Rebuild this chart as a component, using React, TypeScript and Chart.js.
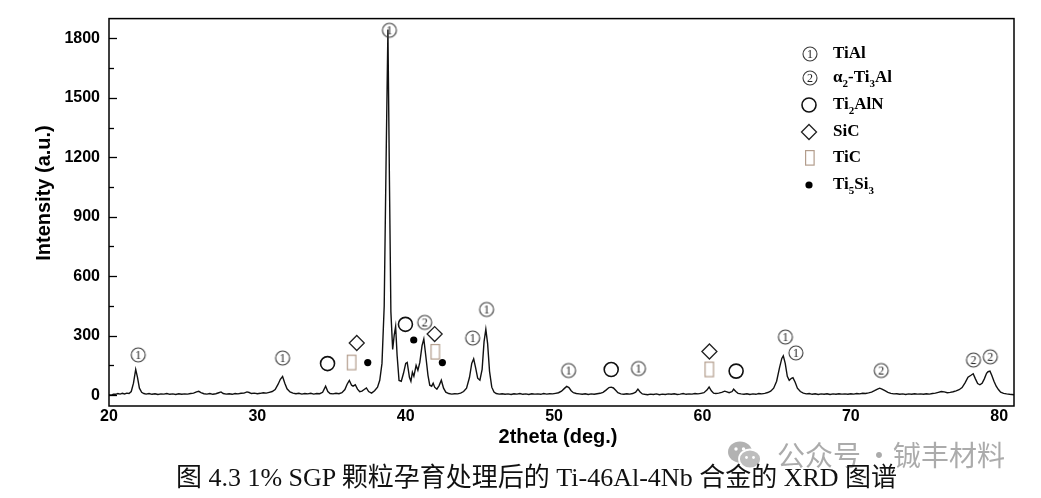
import React, { useEffect, useRef } from 'react';
import { Chart, registerables } from 'chart.js';

Chart.register(...registerables);

// ---- XRD pattern (2theta in degrees, intensity in a.u.) ----
const angles = [
  20.0, 20.15, 20.3, 20.45, 20.6, 20.75, 20.9, 21.05, 21.2, 21.35, 21.5, 21.65, 21.8, 21.92, 22.05, 22.2, 22.35, 22.5, 22.7, 22.9,
  23.1, 23.3, 23.5, 23.7, 23.9, 24.1, 24.3, 24.5, 24.7, 24.9, 25.1, 25.3, 25.5, 25.7, 25.9, 26.05, 26.2, 26.4, 26.6, 26.8,
  27.0, 27.2, 27.4, 27.55, 27.7, 27.9, 28.1, 28.3, 28.5, 28.7, 28.9, 29.1, 29.3, 29.45, 29.6, 29.8, 30.0, 30.2, 30.4, 30.6,
  30.8, 31.0, 31.2, 31.4, 31.55, 31.7, 31.85, 32.0, 32.2, 32.4, 32.6, 32.8, 33.0, 33.2, 33.4, 33.6, 33.8, 34.0, 34.2, 34.4,
  34.6, 34.75, 34.9, 35.1, 35.3, 35.5, 35.7, 35.9, 36.05, 36.2, 36.35, 36.45, 36.6, 36.75, 36.9, 37.05, 37.2, 37.35, 37.5, 37.7,
  37.9, 38.1, 38.25, 38.4, 38.55, 38.68, 38.8, 38.9, 39.0, 39.12, 39.22, 39.32, 39.42, 39.55, 39.7, 39.85, 40.0, 40.1, 40.25, 40.35,
  40.45, 40.55, 40.7, 40.82, 40.95, 41.1, 41.22, 41.35, 41.5, 41.62, 41.75, 41.85, 41.95, 42.1, 42.25, 42.4, 42.55, 42.7, 42.9, 43.1,
  43.3, 43.5, 43.7, 43.9, 44.1, 44.3, 44.45, 44.58, 44.72, 44.85, 45.0, 45.15, 45.28, 45.4, 45.52, 45.65, 45.8, 45.95, 46.1, 46.3,
  46.5, 46.7, 46.9, 47.1, 47.3, 47.5, 47.7, 47.9, 48.1, 48.3, 48.5, 48.7, 48.9, 49.1, 49.3, 49.5, 49.7, 49.9, 50.1, 50.3,
  50.5, 50.7, 50.85, 51.0, 51.15, 51.3, 51.5, 51.7, 51.9, 52.1, 52.3, 52.5, 52.7, 52.9, 53.1, 53.3, 53.5, 53.7, 53.85, 54.0,
  54.15, 54.3, 54.5, 54.7, 54.9, 55.1, 55.3, 55.5, 55.65, 55.8, 55.95, 56.1, 56.3, 56.5, 56.7, 56.9, 57.1, 57.3, 57.5, 57.7,
  57.9, 58.1, 58.3, 58.5, 58.7, 58.9, 59.1, 59.3, 59.5, 59.7, 59.9, 60.1, 60.3, 60.45, 60.6, 60.75, 60.9, 61.1, 61.3, 61.5,
  61.65, 61.8, 62.0, 62.1, 62.25, 62.4, 62.6, 62.8, 63.0, 63.2, 63.4, 63.6, 63.8, 64.0, 64.2, 64.4, 64.6, 64.8, 65.0, 65.2,
  65.35, 65.45, 65.58, 65.72, 65.85, 66.0, 66.1, 66.25, 66.4, 66.6, 66.8, 67.0, 67.2, 67.4, 67.6, 67.8, 68.0, 68.2, 68.4, 68.6,
  68.8, 69.0, 69.2, 69.4, 69.6, 69.8, 70.0, 70.2, 70.4, 70.6, 70.8, 71.0, 71.2, 71.4, 71.6, 71.8, 71.95, 72.1, 72.3, 72.5,
  72.7, 72.9, 73.1, 73.3, 73.5, 73.7, 73.9, 74.1, 74.3, 74.5, 74.7, 74.9, 75.1, 75.3, 75.5, 75.7, 75.9, 76.1, 76.3, 76.5,
  76.7, 76.9, 77.1, 77.3, 77.5, 77.7, 77.9, 78.1, 78.25, 78.4, 78.55, 78.7, 78.85, 79.0, 79.15, 79.25, 79.38, 79.5, 79.65, 79.8,
  79.95, 80.1, 80.3, 80.5, 80.7, 80.85, 81.0,
];
const intensities = [
  2, 0, 5, 4, 8, 5, 9, 6, 10, 8, 18, 60, 130, 90, 35, 14, 8, 5, 8, 4,
  7, 3, 6, 5, 8, 4, 6, 3, 7, 4, 6, 5, 8, 10, 16, 19, 13, 7, 5, 8,
  4, 7, 12, 16, 8, 5, 7, 4, 8, 6, 9, 10, 16, 13, 8, 10, 7, 9, 12, 10,
  14, 18, 28, 55, 80, 94, 60, 32, 16, 10, 7, 9, 5, 8, 6, 9, 5, 8, 7, 14,
  45, 18, 8, 6, 9, 7, 12, 28, 55, 74, 50, 45, 52, 30, 17, 20, 28, 36, 18, 10,
  22, 40, 75, 160, 450, 1200, 1845, 1100, 420, 230, 300, 347, 200, 74, 70, 110, 160, 165, 90, 70,
  115, 95, 150, 125, 165, 250, 283, 200, 100, 50, 45, 60, 40, 30, 48, 75, 35, 15, 8, 5,
  7, 6, 10, 18, 35, 90, 160, 183, 135, 85, 75, 130, 270, 332, 260, 120, 40, 15, 8, 5,
  7, 4, 6, 3, 7, 5, 8, 4, 6, 3, 7, 5, 6, 4, 8, 5, 7, 6, 9, 12,
  20, 34, 44, 38, 22, 12, 8, 6, 4, 7, 3, 6, 4, 7, 9, 14, 25, 38, 40, 36,
  24, 12, 6, 4, 7, 5, 8, 15, 30, 16, 6, 4, 2, 5, 3, 6, 2, 5, 3, 6,
  4, 7, 3, 5, 8, 4, 6, 5, 8, 6, 9, 12, 25, 41, 22, 10, 8, 10, 14, 20,
  16, 12, 18, 30, 18, 9, 6, 4, 7, 3, 6, 4, 8, 6, 9, 13, 20, 35, 70, 140,
  185, 198, 160, 95, 75, 85, 88, 65, 35, 18, 10, 6, 8, 4, 7, 3, 6, 4, 7, 3,
  6, 4, 7, 5, 6, 4, 7, 5, 8, 6, 9, 8, 11, 15, 22, 30, 35, 30, 22, 14,
  9, 6, 7, 4, 6, 3, 6, 4, 7, 5, 6, 4, 7, 5, 8, 10, 14, 18, 16, 12,
  14, 17, 21, 27, 38, 62, 90, 100, 108, 82, 58, 52, 60, 82, 110, 118, 121, 100, 70, 45,
  28, 15, 9, 6, 4, 3, 2,
];

// ---- phase markers (2theta, height of the marker) ----
const tialX = [21.97, 31.7, 38.9, 44.51, 45.45, 50.98, 55.69, 65.59, 66.3];
const tialY = [203, 187, 1841, 288, 432, 124, 134, 293, 213];
const alpha2X = [41.28, 72.05, 78.27, 79.4];
const alpha2Y = [367, 124, 177, 193];
const ti2alnX = [34.73, 39.98, 53.85, 62.27];
const ti2alnY = [159, 357, 129, 121];
const sicX = [36.7, 41.95, 60.47];
const sicY = [263, 308, 220];
const ticX = [36.36, 42.0, 60.47];
const ticY = [164, 218, 129];
const ti5si3X = [37.44, 40.54, 42.47];
const ti5si3Y = [164, 278, 164];

// ---- axes ----
const xTickValues = [20, 30, 40, 50, 60, 70, 80];
const yTickValues = [0, 300, 600, 900, 1200, 1500, 1800];
const yMinorValues = [150, 450, 750, 1050, 1350, 1650];
const xTitle = '2theta (deg.)';
const yTitle = 'Intensity (a.u.)';

// ---- legend: [text, isSubscript] ----
const legendTiAl: [string, boolean][] = [['TiAl', false]];
const legendAlpha2: [string, boolean][] = [['α', false], ['2', true], ['-Ti', false], ['3', true], ['Al', false]];
const legendTi2AlN: [string, boolean][] = [['Ti', false], ['2', true], ['AlN', false]];
const legendSiC: [string, boolean][] = [['SiC', false]];
const legendTiC: [string, boolean][] = [['TiC', false]];
const legendTi5Si3: [string, boolean][] = [['Ti', false], ['5', true], ['Si', false], ['3', true]];

const caption = '图 4.3 1% SGP 颗粒孕育处理后的 Ti-46Al-4Nb 合金的 XRD 图谱';
const watermarkLeft = '公众号';
const watermarkDot = '·';
const watermarkRight = '铖丰材料';

const pts = (xs: number[], ys: number[]) => xs.map((x, i) => ({ x, y: ys[i] }));

function makeCircled(d: string): HTMLCanvasElement {
  const c = document.createElement('canvas');
  c.width = 18; c.height = 18;
  const g = c.getContext('2d')!;
  g.strokeStyle = '#3c3c3c';
  g.lineWidth = 1.1;
  g.beginPath(); g.arc(9, 9, 7, 0, Math.PI * 2); g.stroke();
  g.fillStyle = '#222';
  g.font = '12px "Liberation Serif", serif';
  g.textAlign = 'center';
  g.textBaseline = 'middle';
  g.fillText(d, 9, 9.8);
  return c;
}

function makeTallRect(): HTMLCanvasElement {
  const c = document.createElement('canvas');
  c.width = 12; c.height = 18;
  const g = c.getContext('2d')!;
  g.strokeStyle = '#b39d8c';
  g.lineWidth = 1.2;
  g.strokeRect(1.6, 1.6, 8.5, 14.5);
  return c;
}

export default function App() {
  const ref = useRef<HTMLCanvasElement | null>(null);

  useEffect(() => {
    if (!ref.current) return;
    const one = makeCircled('1');
    const two = makeCircled('2');
    const rectImg = makeTallRect();

    const drawRich = (ctx: CanvasRenderingContext2D, parts: [string, boolean][], x: number, y: number) => {
      let cx = x;
      for (const [t, sub] of parts) {
        ctx.font = sub ? 'bold 11px "Liberation Serif", serif' : 'bold 17px "Liberation Serif", serif';
        ctx.fillText(t, cx, sub ? y + 6 : y);
        cx += ctx.measureText(t).width;
      }
    };

    const decor = {
      id: 'decor',
      afterDraw(chart: any) {
        const { ctx, chartArea: a, scales } = chart;
        ctx.save();
        ctx.strokeStyle = '#000';
        ctx.lineWidth = 1.5;
        ctx.strokeRect(a.left, a.top, a.right - a.left, a.bottom - a.top);
        ctx.lineWidth = 1.3;
        for (const v of yTickValues) {
          const p = Math.round(scales.y.getPixelForValue(v)) + 0.5;
          ctx.beginPath(); ctx.moveTo(a.left, p); ctx.lineTo(a.left + 8, p); ctx.stroke();
        }
        for (const v of yMinorValues) {
          const p = Math.round(scales.y.getPixelForValue(v)) + 0.5;
          ctx.beginPath(); ctx.moveTo(a.left, p); ctx.lineTo(a.left + 5, p); ctx.stroke();
        }
        // axis titles
        ctx.fillStyle = '#000';
        ctx.textAlign = 'center';
        ctx.textBaseline = 'middle';
        ctx.font = 'bold 20px "Liberation Sans", Arial, sans-serif';
        ctx.fillText(xTitle, 558, 437);
        ctx.save();
        ctx.translate(44, 193);
        ctx.rotate(-Math.PI / 2);
        ctx.fillText(yTitle, 0, 0);
        ctx.restore();

        // legend
        const sx = 810;
        const tx = 833;
        const rows = [54, 78, 105, 132, 158, 185];
        ctx.drawImage(one, sx - 9, rows[0] - 9);
        ctx.drawImage(two, sx - 9, rows[1] - 9);
        ctx.strokeStyle = '#111';
        ctx.lineWidth = 1.6;
        ctx.beginPath(); ctx.arc(sx - 1, rows[2], 7, 0, Math.PI * 2); ctx.stroke();
        ctx.lineWidth = 1.3;
        ctx.strokeStyle = '#222';
        ctx.beginPath();
        ctx.moveTo(sx - 1, rows[3] - 7.5); ctx.lineTo(sx + 6.5, rows[3]);
        ctx.lineTo(sx - 1, rows[3] + 7.5); ctx.lineTo(sx - 8.5, rows[3]); ctx.closePath(); ctx.stroke();
        ctx.drawImage(rectImg, sx - 6, rows[4] - 9);
        ctx.fillStyle = '#000';
        ctx.beginPath(); ctx.arc(sx - 1, rows[5], 3.6, 0, Math.PI * 2); ctx.fill();

        ctx.textAlign = 'left';
        ctx.textBaseline = 'middle';
        ctx.fillStyle = '#000';
        drawRich(ctx, legendTiAl, tx, rows[0]);
        drawRich(ctx, legendAlpha2, tx, rows[1]);
        drawRich(ctx, legendTi2AlN, tx, rows[2]);
        drawRich(ctx, legendSiC, tx, rows[3]);
        drawRich(ctx, legendTiC, tx, rows[4]);
        drawRich(ctx, legendTi5Si3, tx, rows[5]);
        ctx.restore();
      },
    };

    const marker = (data: any[], style: any, radius: number, opts: any = {}) => ({
      type: 'scatter' as const,
      data,
      pointStyle: style,
      pointRadius: radius,
      pointHoverRadius: radius,
      pointBorderWidth: 1.3,
      pointBorderColor: '#222',
      pointBackgroundColor: 'rgba(0,0,0,0)',
      showLine: false,
      ...opts,
    });

    const tickFont = { family: '"Liberation Sans", Arial, sans-serif', size: 16, weight: 'bold' as const };

    const chart = new Chart(ref.current, {
      type: 'line',
      data: {
        datasets: [
          marker(pts(tialX, tialY), one, 7) as any,
          marker(pts(alpha2X, alpha2Y), two, 7) as any,
          marker(pts(ti2alnX, ti2alnY), 'circle', 7, { pointBorderWidth: 1.6, pointBorderColor: '#111' }) as any,
          marker(pts(sicX, sicY), 'rectRot', 7.5, { pointBorderColor: '#222' }) as any,
          marker(pts(ticX, ticY), rectImg, 7) as any,
          marker(pts(ti5si3X, ti5si3Y), 'circle', 3.6, { pointBackgroundColor: '#000', pointBorderWidth: 0 }) as any,
          {
            type: 'line',
            data: pts(angles, intensities),
            borderColor: '#111',
            borderWidth: 1.4,
            pointRadius: 0,
            tension: 0,
            fill: false,
          } as any,
        ],
      },
      options: {
        animation: false,
        responsive: false,
        maintainAspectRatio: false,
        events: [],
        layout: { padding: { left: 0, right: 27, top: 12, bottom: 0 } },
        plugins: { legend: { display: false }, tooltip: { enabled: false }, title: { display: false } },
        scales: {
          x: {
            type: 'linear',
            min: 20,
            max: 81,
            afterFit: (s: any) => { s.height = 92; },
            afterBuildTicks: (s: any) => { s.ticks = xTickValues.map((v) => ({ value: v })); },
            grid: { display: false, drawTicks: false },
            border: { display: false },
            ticks: { color: '#000', font: tickFont, padding: 1, maxRotation: 0, autoSkip: false, callback: (v: any) => String(v) },
          },
          y: {
            type: 'linear',
            min: -55,
            max: 1900,
            afterFit: (s: any) => { s.width = 109; },
            afterBuildTicks: (s: any) => { s.ticks = yTickValues.map((v) => ({ value: v })); },
            grid: { display: false, drawTicks: false },
            border: { display: false },
            ticks: { color: '#000', font: tickFont, padding: 9, autoSkip: false, callback: (v: any) => String(v) },
          },
        },
      },
      plugins: [decor],
    });
    return () => chart.destroy();
  }, []);

  const wmStyle: React.CSSProperties = {
    position: 'absolute', top: 439, whiteSpace: 'nowrap',
    fontFamily: '"Noto Sans CJK SC", sans-serif', fontSize: 28, lineHeight: '30px', color: '#ababab',
  };

  return (
    <div style={{ position: 'fixed', left: 0, top: 0, width: 1041, height: 498, background: '#fff', overflow: 'hidden' }}>
      <canvas ref={ref} width={1041} height={498} style={{ display: 'block', width: 1041, height: 498 }} />
      <div style={{ position: 'absolute', left: 727, top: 440, width: 36, height: 30 }}>
        <svg width="36" height="30" viewBox="0 0 36 30">
          <ellipse cx="13" cy="12" rx="12" ry="10.5" fill="#b2b2b2" />
          <ellipse cx="23" cy="19" rx="11" ry="9.5" fill="#bdbdbd" stroke="#fff" strokeWidth="1.8" />
          <circle cx="9" cy="9" r="1.7" fill="#fff" />
          <circle cx="16.5" cy="9" r="1.7" fill="#fff" />
          <circle cx="19.5" cy="17.5" r="1.4" fill="#fff" />
          <circle cx="26.5" cy="17.5" r="1.4" fill="#fff" />
        </svg>
      </div>
      <div style={{ ...wmStyle, left: 777 }}>{watermarkLeft}</div>
      <div style={{ ...wmStyle, left: 865 }}>{watermarkDot}</div>
      <div style={{ ...wmStyle, left: 893 }}>{watermarkRight}</div>
      <div
        style={{
          position: 'absolute', left: 16, top: 464, width: 1041, textAlign: 'center',
          fontFamily: '"Liberation Serif", "Noto Sans CJK SC", serif', fontSize: 26, lineHeight: '28px', color: '#111',
          whiteSpace: 'nowrap',
        }}
      >
        {caption}
      </div>
    </div>
  );
}
